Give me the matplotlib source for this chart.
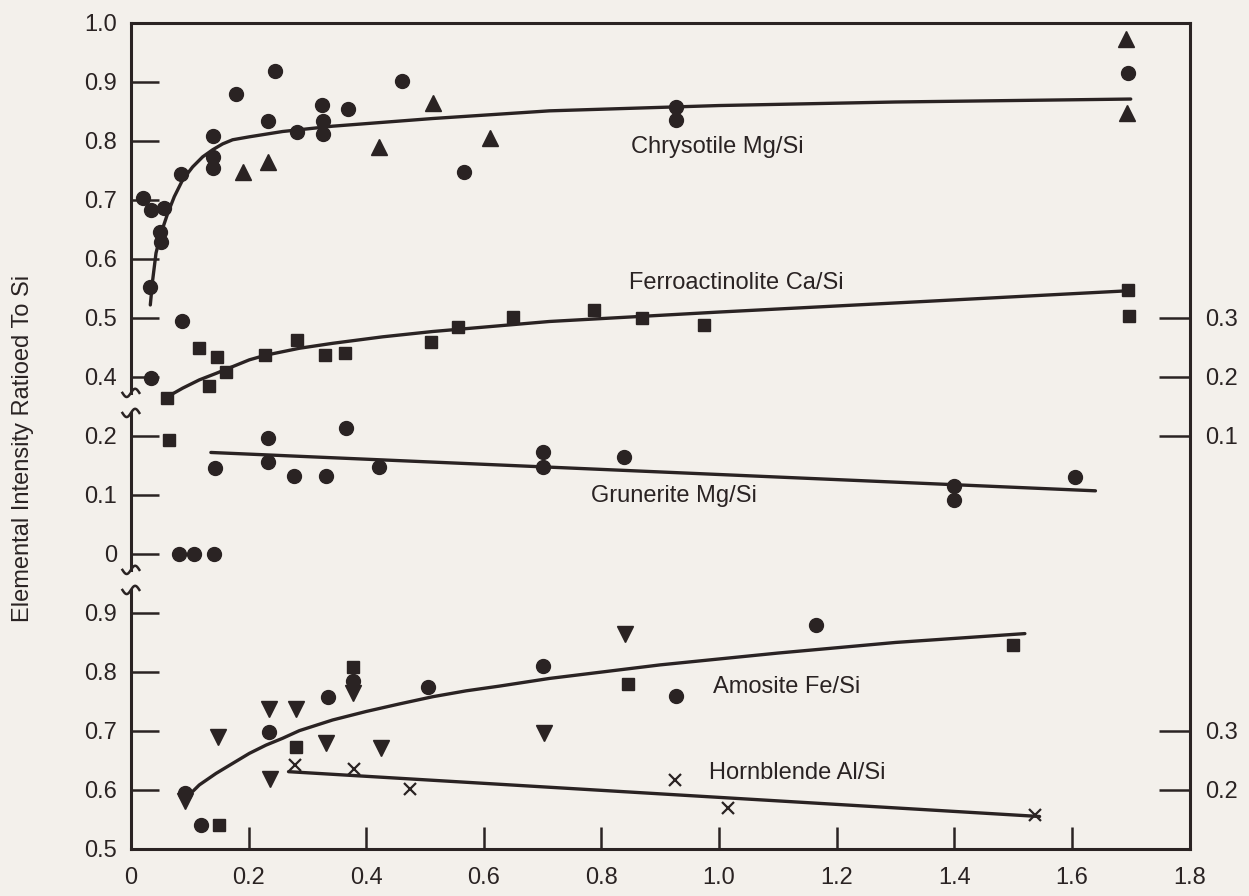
import numpy as np
import matplotlib.pyplot as plt
from matplotlib import transforms

plt.rcParams['font.family'] = ['Liberation Sans', 'DejaVu Sans']

BG = '#f3f0eb'
INK = '#2a2323'

# each panel is drawn on one shared axis, shifted by an offset
UPPER = 0.9    # chrysotile, left scale 0.4 - 1.0
MIDDLE = 1.0   # grunerite, left scale 0 - 0.2
LOWER = 0.0    # amosite, left scale 0.5 - 0.9
FERRO = 1.1    # ferroactinolite, right scale 0.1 - 0.3
HORN = 0.4     # hornblende, right scale 0.2 - 0.3

# Chrysotile Mg/Si
chry_circ_x = [0.02, 0.035, 0.057, 0.05, 0.052, 0.033, 0.085, 0.14, 0.139, 0.139,
               0.178, 0.245, 0.233, 0.282, 0.325, 0.327, 0.327, 0.369, 0.461,
               0.566, 0.926, 0.926, 1.696, 0.034, 0.087]
chry_circ_y = [0.703, 0.683, 0.686, 0.646, 0.629, 0.553, 0.744, 0.808, 0.773, 0.754,
               0.880, 0.919, 0.833, 0.816, 0.861, 0.833, 0.812, 0.854, 0.902,
               0.747, 0.857, 0.836, 0.915, 0.399, 0.494]
chry_tri_x = [0.191, 0.233, 0.421, 0.513, 0.611, 1.692, 1.694]
chry_tri_y = [0.748, 0.765, 0.790, 0.864, 0.805, 0.972, 0.848]
chry_fit_x = [0.033, 0.037, 0.0427, 0.0512, 0.0625, 0.0738, 0.088, 0.105, 0.122, 0.139,
              0.156, 0.173, 0.2014, 0.258, 0.343, 0.513, 0.7116, 1.0, 1.3, 1.70]
chry_fit_y = [0.522, 0.564, 0.610, 0.6435, 0.677, 0.7056, 0.734, 0.756, 0.773, 0.785,
              0.795, 0.802, 0.807, 0.816, 0.825, 0.838, 0.851, 0.860, 0.866, 0.871]

# Ferroactinolite Ca/Si (right scale)
ferro_x = [0.065, 0.062, 0.115, 0.146, 0.133, 0.162, 0.228, 0.282, 0.33, 0.364,
           0.511, 0.557, 0.649, 0.788, 0.869, 0.975, 1.695, 1.697]
ferro_y = [0.093, 0.164, 0.249, 0.234, 0.184, 0.209, 0.237, 0.263, 0.237, 0.240,
           0.260, 0.285, 0.302, 0.314, 0.300, 0.288, 0.348, 0.303]
ferro_fit_x = [0.0625, 0.088, 0.1163, 0.1447, 0.173, 0.2014, 0.2297, 0.2864, 0.343,
               0.428, 0.513, 0.7116, 1.0, 1.35, 1.695]
ferro_fit_y = [0.1666, 0.181, 0.195, 0.206, 0.2175, 0.229, 0.237, 0.2486, 0.257,
               0.268, 0.277, 0.294, 0.310, 0.328, 0.346]

# Grunerite Mg/Si
grun_x = [0.082, 0.108, 0.142, 0.1435, 0.2325, 0.2325, 0.278, 0.332, 0.366, 0.4225,
          0.70, 0.70, 0.8376, 1.3995, 1.3995, 1.606]
grun_y = [0.0, 0.0, 0.0, 0.145, 0.196, 0.156, 0.132, 0.132, 0.213, 0.147,
          0.173, 0.147, 0.165, 0.115, 0.0915, 0.130]
grun_fit_x = [0.136, 1.640]
grun_fit_y = [0.172, 0.107]

# Amosite Fe/Si
amo_circ_x = [0.0925, 0.119, 0.235, 0.3345, 0.377, 0.5046, 0.70, 0.926, 1.165]
amo_circ_y = [0.594, 0.541, 0.699, 0.758, 0.784, 0.775, 0.810, 0.760, 0.880]
amo_sq_x = [0.149, 0.281, 0.377, 0.845, 1.50]
amo_sq_y = [0.541, 0.672, 0.809, 0.780, 0.845]
amo_tri_x = [0.0925, 0.1475, 0.235, 0.281, 0.237, 0.332, 0.377, 0.425, 0.702, 0.84]
amo_tri_y = [0.582, 0.689, 0.738, 0.738, 0.618, 0.679, 0.764, 0.671, 0.696, 0.865]
amo_fit_x = [0.0965, 0.1163, 0.1447, 0.173, 0.2014, 0.2297, 0.258, 0.2864, 0.343, 0.40,
             0.4565, 0.513, 0.57, 0.6265, 0.7116, 0.9, 1.1, 1.3, 1.52]
amo_fit_y = [0.589, 0.6085, 0.628, 0.645, 0.662, 0.676, 0.6876, 0.7005, 0.7186, 0.733,
             0.7458, 0.758, 0.768, 0.776, 0.789, 0.812, 0.832, 0.850, 0.865]

# Hornblende Al/Si (right scale)
horn_x = [0.2796, 0.38, 0.4747, 0.925, 1.016, 1.5376]
horn_y = [0.242, 0.235, 0.201, 0.217, 0.169, 0.158]
horn_fit_x = [0.268, 1.545]
horn_fit_y = [0.231, 0.155]

x_ticks = [0, 0.2, 0.4, 0.6, 0.8, 1.0, 1.2, 1.4, 1.6, 1.8]
x_labels = ['0', '0.2', '0.4', '0.6', '0.8', '1.0', '1.2', '1.4', '1.6', '1.8']
lower_ticks = [0.5, 0.6, 0.7, 0.8, 0.9]
middle_ticks = [0, 0.1, 0.2]
upper_ticks = [0.4, 0.5, 0.6, 0.7, 0.8, 0.9, 1.0]
ferro_ticks = [0.1, 0.2, 0.3]
horn_ticks = [0.2, 0.3]


def shift(vals, off):
    return np.asarray(vals) + off


fig = plt.figure(figsize=(12.49, 8.96), dpi=100, facecolor=BG)
ax = fig.add_axes([0.1048, 0.0525, 0.8476, 0.9219])
ax.set_facecolor(BG)
ax.set_xlim(0, 1.8)
ax.set_ylim(0.5, 1.9)

mk = dict(color=INK, linestyle='none', mec=INK)
lk = dict(color=INK, lw=2.4, solid_capstyle='round', solid_joinstyle='round')

ax.plot(chry_fit_x, shift(chry_fit_y, UPPER), **lk)
ax.plot(chry_circ_x, shift(chry_circ_y, UPPER), marker='o', ms=10, **mk)
ax.plot(chry_tri_x, shift(chry_tri_y, UPPER), marker='^', ms=11, **mk)

ax.plot(ferro_fit_x, shift(ferro_fit_y, FERRO), **lk)
ax.plot(ferro_x, shift(ferro_y, FERRO), marker='s', ms=9, **mk)

ax.plot(grun_fit_x, shift(grun_fit_y, MIDDLE), **lk)
ax.plot(grun_x, shift(grun_y, MIDDLE), marker='o', ms=10, **mk)

ax.plot(amo_fit_x, shift(amo_fit_y, LOWER), **lk)
ax.plot(amo_circ_x, shift(amo_circ_y, LOWER), marker='o', ms=10, **mk)
ax.plot(amo_sq_x, shift(amo_sq_y, LOWER), marker='s', ms=9, **mk)
ax.plot(amo_tri_x, shift(amo_tri_y, LOWER), marker='v', ms=11, **mk)

ax.plot(horn_fit_x, shift(horn_fit_y, HORN), **lk)
ax.plot(horn_x, shift(horn_y, HORN), marker='x', ms=9, mew=1.6, **mk)

lab = dict(fontsize=17, color=INK, va='center', ha='left')
ax.text(0.851, 1.690, 'Chrysotile Mg/Si', **lab)
ax.text(0.847, 1.459, 'Ferroactinolite Ca/Si', **lab)
ax.text(0.782, 1.098, 'Grunerite Mg/Si', **lab)
ax.text(0.99, 0.775, 'Amosite Fe/Si', **lab)
ax.text(0.983, 0.629, 'Hornblende Al/Si', **lab)

# axes frame
for s in ['top', 'right', 'bottom']:
    ax.spines[s].set_linewidth(2.2)
    ax.spines[s].set_color(INK)
ax.spines['left'].set_visible(False)

# left spine drawn in pieces with the break marks
tr = transforms.blended_transform_factory(ax.transAxes, ax.transData)
for y0, y1 in [(0.5, 0.939), (0.973, 1.239), (1.273, 1.9)]:
    ax.plot([0, 0], [y0, y1], color=INK, lw=2.2, transform=tr, clip_on=False)
t = np.linspace(-1, 1, 30)
for yb in [0.939, 0.973, 1.239, 1.273]:
    ax.plot(t * 0.008, yb + 0.007 * np.sin(np.pi * t), color=INK, lw=1.8,
            transform=tr, clip_on=False)

ax.set_xticks(x_ticks, x_labels)
yt = list(shift(lower_ticks, LOWER)) + list(shift(middle_ticks, MIDDLE)) + list(shift(upper_ticks, UPPER))
yl = [f'{v:g}' for v in lower_ticks] + [f'{v:g}' for v in middle_ticks] + [f'{v:.1f}' for v in upper_ticks]
ax.set_yticks(yt, yl)
ax.tick_params(axis='x', direction='in', length=16, width=1.8, pad=13, labelsize=17,
               color=INK, labelcolor=INK)
ax.tick_params(axis='y', direction='in', length=20, width=1.8, pad=10, labelsize=17,
               color=INK, labelcolor=INK)

ax2 = ax.twinx()
ax2.set_ylim(0.5, 1.9)
rt = list(shift(horn_ticks, HORN)) + list(shift(ferro_ticks, FERRO))
rl = [f'{v:g}' for v in horn_ticks] + [f'{v:g}' for v in ferro_ticks]
ax2.set_yticks(rt, rl)
ax2.tick_params(axis='y', direction='in', length=22, width=1.8, pad=11, labelsize=17,
                color=INK, labelcolor=INK)
for s in ax2.spines.values():
    s.set_visible(False)

fig.text(0.0185, 0.5, 'Elemental Intensity Ratioed To Si', rotation=90,
         ha='center', va='center', fontsize=17, color=INK)

fig.savefig('out.png', dpi=100, facecolor=BG)
